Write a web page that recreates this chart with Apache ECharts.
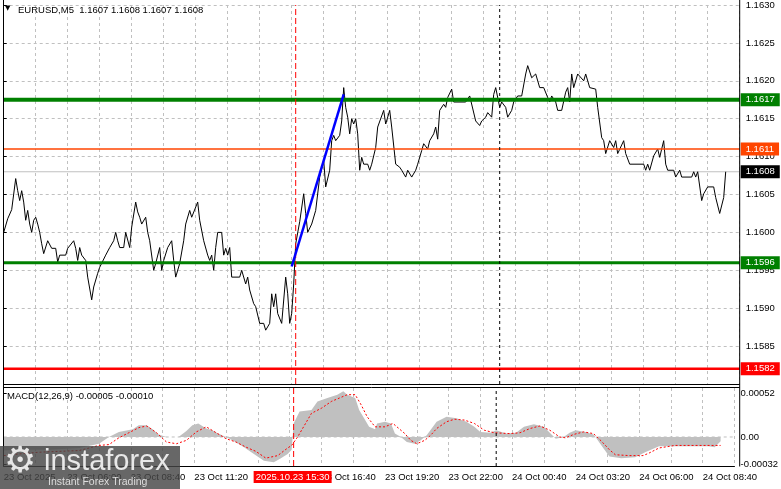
<!DOCTYPE html>
<html><head><meta charset="utf-8">
<script src="https://cdn.jsdelivr.net/npm/echarts@6/dist/echarts.min.js"></script>
<style>html,body{margin:0;padding:0;background:#fff}#c{width:781px;height:489px}</style>
</head><body><div id="c"></div>
<script>
// ---------- data ----------
const symbolTitle = 'EURUSD,M5  1.1607 1.1608 1.1607 1.1608';
const macdTitle = 'MACD(12,26,9) -0.00005 -0.00010';
// one tick label every 32 bars (M5 bars, first bar = 23 Oct 03:20)
const timeTickLabels = ['23 Oct 2025','23 Oct 06:00','23 Oct 08:40','23 Oct 11:20','23 Oct 14:00','23 Oct 16:40',
  '23 Oct 19:20','23 Oct 22:00','24 Oct 00:40','24 Oct 03:20','24 Oct 06:00','24 Oct 08:40'];
const cursorTime = '2025.10.23 15:30';
const cursorBar = 146;
const daySeparatorBar = 248;

// close price line (bar index, close)
const closeBar = [0,2,4,6,7,8,9,10,11,12,13,14,15,16,17,18,19,20,21,22,23,24,26,27,28,31,32,33,35,36,37,38,39,41,42,44,45,47,48,51,52,53,55,56,57,58,60,61,63,64,66,67,68,69,71,72,73,74,75,76,78,79,80,82,84,85,86,88,90,91,93,94,95,97,98,100,102,103,104,105,106,107,109,110,111,112,113,114,118,119,121,122,123,125,126,128,130,131,133,134,135,136,137,139,141,142,143,144,145,146,148,150,151,152,154,156,158,160,161,163,164,165,166,168,169,170,171,172,173,174,175,176,177,178,179,180,182,183,184,186,187,190,191,193,194,196,198,199,201,202,204,206,207,209,210,212,213,215,216,217,218,220,221,222,224,225,231,233,234,236,238,239,241,242,244,245,246,248,249,251,252,254,255,257,259,261,262,264,266,267,268,270,272,273,274,276,277,279,281,282,283,284,285,287,288,290,291,293,296,297,299,300,301,303,305,306,307,310,311,313,320,321,322,323,325,327,328,330,331,332,335,336,338,339,344,345,346,347,349,350,352,355,356,358,360,361];
const closePrice = [1.16000,1.16018,1.16030,1.16071,1.16055,1.16042,1.16055,1.16040,1.16016,1.16029,1.16011,1.16000,1.16016,1.16020,1.16011,1.16000,1.15985,1.15972,1.15970,1.15989,1.15989,1.15979,1.15979,1.15961,1.15970,1.15970,1.15979,1.15980,1.15989,1.15979,1.15963,1.15980,1.15970,1.15963,1.15941,1.15911,1.15928,1.15946,1.15954,1.15970,1.15972,1.15980,1.15989,1.16000,1.15989,1.15980,1.15980,1.16000,1.15980,1.16007,1.16040,1.16027,1.16020,1.16011,1.16020,1.16000,1.15989,1.15989,1.15950,1.15959,1.15980,1.15950,1.15963,1.15980,1.15989,1.15963,1.15941,1.15959,1.15989,1.16011,1.16029,1.16020,1.16020,1.16040,1.16016,1.15989,1.15970,1.15963,1.15970,1.15950,1.15980,1.16000,1.16000,1.15970,1.15979,1.15970,1.15980,1.15941,1.15941,1.15950,1.15932,1.15941,1.15924,1.15906,1.15902,1.15880,1.15880,1.15871,1.15880,1.15919,1.15902,1.15919,1.15893,1.15880,1.15941,1.15919,1.15880,1.15893,1.15932,1.15985,1.16014,1.16051,1.16025,1.16000,1.16011,1.16029,1.16073,1.16095,1.16060,1.16082,1.16121,1.16128,1.16121,1.16128,1.16147,1.16191,1.16165,1.16152,1.16130,1.16150,1.16143,1.16150,1.16130,1.16082,1.16099,1.16090,1.16090,1.16082,1.16090,1.16112,1.16139,1.16161,1.16143,1.16161,1.16139,1.16090,1.16086,1.16082,1.16073,1.16082,1.16073,1.16082,1.16090,1.16108,1.16117,1.16110,1.16121,1.16130,1.16139,1.16123,1.16161,1.16169,1.16165,1.16178,1.16189,1.16172,1.16172,1.16180,1.16178,1.16147,1.16141,1.16147,1.16152,1.16158,1.16152,1.16182,1.16191,1.16165,1.16172,1.16165,1.16152,1.16161,1.16172,1.16180,1.16180,1.16209,1.16220,1.16204,1.16209,1.16209,1.16191,1.16191,1.16178,1.16172,1.16180,1.16172,1.16161,1.16161,1.16185,1.16191,1.16172,1.16209,1.16191,1.16209,1.16209,1.16200,1.16209,1.16191,1.16189,1.16165,1.16125,1.16121,1.16104,1.16121,1.16112,1.16121,1.16104,1.16121,1.16104,1.16090,1.16090,1.16082,1.16090,1.16082,1.16101,1.16110,1.16099,1.16121,1.16090,1.16082,1.16082,1.16073,1.16082,1.16073,1.16073,1.16080,1.16073,1.16080,1.16042,1.16051,1.16060,1.16060,1.16046,1.16025,1.16046,1.16080];

// blue trend line drawn on the chart
const trendBar = [144, 170];
const trendPrice = [1.15955, 1.16182];

// horizontal levels and their price tags
const levelPrice = [1.16175, 1.1611, 1.1608, 1.1596, 1.1582];
const levelTag = ['1.1617', '1.1611', '1.1608', '1.1596', '1.1582'];

// MACD histogram (main) and signal
const macdBar = [0,8,23,38,48,53,58,65,68,72,75,78,82,88,92,95,98,102,105,108,112,116,121,126,131,136,139,143,145,146,149,155,158,163,168,171,173,177,179,182,184,187,188,192,195,197,200,203,207,210,213,218,223,228,233,237,240,245,248,253,258,262,267,272,275,278,282,285,288,293,297,298,301,305,311,318,323,330,338,348,355,358,361];
const macdMain = [-0.00016,-0.00015,-0.00015,-0.00013,-0.00008,0,0.00006,0.00009,0.00014,0.00014,0.00009,0.00003,0,0,0.00007,0.00014,0.00016,0.00010,0.00008,0.00004,0,-0.00005,-0.00012,-0.00020,-0.00028,-0.00030,-0.00026,-0.00020,-0.00015,0.00016,0.00030,0.00032,0.00042,0.00046,0.00050,0.00054,0.00050,0.00046,0.00032,0.00020,0.00012,0.00009,0.00016,0.00018,0.00016,0.00004,0,-0.00006,-0.00008,-0.00004,0.00002,0.00018,0.00024,0.00022,0.00018,0.00012,0.00006,0.00005,0.00008,0.00004,0.00005,0.00012,0.00015,0.00012,0.00005,-0.00002,0,0.00005,0.00008,0.00006,0.00003,0,-0.00010,-0.00023,-0.00025,-0.00024,-0.00018,-0.00011,-0.00011,-0.00011,-0.00011,-0.00012,-0.00005];
const signalBar = [0,8,18,38,48,53,58,63,68,72,77,82,87,92,97,102,107,112,117,122,127,132,138,143,145,148,152,155,160,165,169,173,177,180,183,187,192,196,198,202,205,208,212,215,218,223,227,232,237,242,247,255,260,265,270,275,280,283,287,292,297,301,305,308,315,322,325,330,338,348,361];
const macdSignal = [-0.00022,-0.00020,-0.00018,-0.00016,-0.00010,-0.00009,-0.00001,0.00005,0.00011,0.00013,0.00005,-0.00006,-0.00008,-0.00004,0.00006,0.00012,0.00005,-0.00002,-0.00006,-0.00012,-0.00017,-0.00025,-0.00022,-0.00013,-0.00010,0,0.00016,0.00028,0.00034,0.00042,0.00046,0.00050,0.00050,0.00038,0.00024,0.00012,0.00012,0.00016,0.00012,0.00004,-0.00004,-0.00008,-0.00004,0.00002,0.00010,0.00018,0.00021,0.00020,0.00016,0.00008,0.00005,0.00004,0.00005,0.00010,0.00013,0.00008,0,-0.00001,0.00003,0.00006,0.00004,-0.00005,-0.00015,-0.00021,-0.00022,-0.00022,-0.00019,-0.00013,-0.00010,-0.00010,-0.00010];
const macdTickValues = [-0.00032, 0, 0.00052];

// ---------- styles / axis ranges ----------
const FONT = 'Liberation Sans';
const FS = 9.5;
const X_MAX = 368;
const P_MIN = 1.158, P_MAX = 1.163;
const M_MIN = -0.000343, M_MAX = 0.000579;
const levelColor = ['#008000', '#ff4500', '#c0c0c0', '#008000', '#ff0000'];
const levelWidth = [4, 1.5, 1, 3, 2.5];
const levelTagBg = ['#008000', '#ff4500', '#000000', '#008000', '#ff0000'];
const gridLine = {color: '#c0c0c0', type: [3, 3], width: 1};

const pair = (xs, ys) => xs.map((x, k) => [x, ys[k]]);

const chart = echarts.init(document.getElementById('c'), null, {renderer: 'canvas'});

const levelSeries = levelPrice.map((p, k) => ({
  type: 'line', xAxisIndex: 0, yAxisIndex: 0, data: [[0, p], [X_MAX, p]], silent: true,
  showSymbol: false, symbol: 'none', lineStyle: {color: levelColor[k], width: levelWidth[k]}, z: 4 + (k === 2 ? -2 : 0),
  endLabel: {show: true, distance: 1, formatter: levelTag[k], backgroundColor: levelTagBg[k],
    color: '#fff', padding: [2, 5, 1, 5], fontSize: FS, fontFamily: FONT}
}));
const vSeries = (xi, yi, lo, hi, bar, color, dash) => ({
  type: 'line', xAxisIndex: xi, yAxisIndex: yi, data: [[bar, lo], [bar, hi]], silent: true,
  showSymbol: false, symbol: 'none', lineStyle: {color: color, width: 1, type: dash}, z: 5
});

const option = {
  animation: false,
  backgroundColor: '#fff',
  textStyle: {fontFamily: FONT},
  grid: [
    {left: 3.7, width: 736, top: 4, height: 380},
    {left: 3.7, width: 736, top: 388, height: 78}
  ],
  xAxis: [
    {type: 'value', gridIndex: 0, min: 0, max: X_MAX, interval: 16,
      axisLine: {show: false}, axisTick: {show: false}, axisLabel: {show: false},
      splitLine: {show: true, lineStyle: gridLine}},
    {type: 'value', gridIndex: 1, min: 0, max: X_MAX, interval: 16,
      axisLine: {show: true, onZero: false, lineStyle: {color: '#000', width: 1}}, axisTick: {show: false},
      axisLabel: {show: true, align: 'left', margin: 6, color: '#000', fontSize: FS, fontFamily: FONT,
        showMinLabel: true, showMaxLabel: true,
        formatter: v => (v % 32 === 0 && timeTickLabels[v / 32]) ? timeTickLabels[v / 32] : ''},
      splitLine: {show: true, lineStyle: gridLine}}
  ],
  yAxis: [
    {type: 'value', gridIndex: 0, position: 'right', min: P_MIN, max: P_MAX, interval: 0.0005,
      axisLine: {show: true, lineStyle: {color: '#000', width: 1}},
      axisTick: {show: true, length: 3, lineStyle: {color: '#000'}},
      axisLabel: {show: true, margin: 6, color: '#000', fontSize: FS, fontFamily: FONT, showMinLabel: false,
        formatter: v => v.toFixed(4)},
      splitLine: {show: true, lineStyle: gridLine}},
    {type: 'value', gridIndex: 1, position: 'right', min: M_MIN, max: M_MAX,
      axisLine: {show: true, lineStyle: {color: '#000', width: 1}},
      axisTick: {show: true, length: 3, customValues: macdTickValues, lineStyle: {color: '#000'}},
      axisLabel: {show: true, margin: 6, color: '#000', fontSize: FS, fontFamily: FONT, customValues: macdTickValues,
        formatter: v => Math.abs(v) < 1e-9 ? '0.00' : v.toFixed(5)},
      splitLine: {show: false}}
  ],
  series: [
    {type: 'line', name: 'close', xAxisIndex: 0, yAxisIndex: 0, data: pair(closeBar, closePrice),
      showSymbol: false, symbol: 'none', lineStyle: {color: '#000', width: 1}, z: 3},
    ...levelSeries,
    vSeries(0, 0, P_MIN, P_MAX, cursorBar, '#ff0000', [6, 3]),
    vSeries(0, 0, P_MIN, P_MAX, daySeparatorBar, '#000000', [3, 3]),
    {type: 'line', name: 'trend', xAxisIndex: 0, yAxisIndex: 0, data: pair(trendBar, trendPrice),
      showSymbol: false, symbol: 'none', lineStyle: {color: '#0000ff', width: 2.5}, z: 6},
    {type: 'line', name: 'zero', xAxisIndex: 1, yAxisIndex: 1, data: [[0, 0], [X_MAX, 0]], silent: true,
      showSymbol: false, symbol: 'none', lineStyle: gridLine, z: 1},
    {type: 'line', name: 'macd', xAxisIndex: 1, yAxisIndex: 1, data: pair(macdBar, macdMain),
      showSymbol: false, symbol: 'none', lineStyle: {width: 0}, areaStyle: {color: '#c0c0c0', opacity: 1, origin: 0}, z: 2},
    vSeries(1, 1, M_MIN, M_MAX, cursorBar, '#ff0000', [6, 3]),
    vSeries(1, 1, M_MIN, M_MAX, daySeparatorBar, '#000000', [3, 3]),
    {type: 'line', name: 'signal', xAxisIndex: 1, yAxisIndex: 1, data: pair(signalBar, macdSignal),
      showSymbol: false, symbol: 'none', lineStyle: {color: '#ff0000', width: 1, type: [2, 2]}, z: 4}
  ]
};
chart.setOption(option);

// overlays: titles, frame, cursor time tag, logo
const cx = chart.convertToPixel({xAxisIndex: 1}, cursorBar);
chart.setOption({
  graphic: [
    {type: 'line', shape: {x1: 3.5, y1: 0, x2: 3.5, y2: 466.5}, style: {stroke: '#000', lineWidth: 1}, z: 50},
    {type: 'line', shape: {x1: 739.7, y1: 0, x2: 739.7, y2: 466.5}, style: {stroke: '#000', lineWidth: 1}, z: 50},
    {type: 'line', shape: {x1: 3.5, y1: 384.5, x2: 739.7, y2: 384.5}, style: {stroke: '#000', lineWidth: 1}, z: 50},
    {type: 'line', shape: {x1: 3.5, y1: 387.5, x2: 739.7, y2: 387.5}, style: {stroke: '#000', lineWidth: 1}, z: 50},
    {type: 'text', left: 5, top: 5, style: {text: '▼', fontSize: 7, fill: '#000', fontFamily: 'DejaVu Sans'}, z: 60},
    {type: 'text', left: 18, top: 5, style: {text: symbolTitle, fontSize: FS, fill: '#000', fontFamily: FONT}, z: 60},
    {type: 'text', left: 7, top: 391, style: {text: macdTitle, fontSize: FS, fill: '#000', fontFamily: FONT}, z: 60},
    {type: 'rect', shape: {x: cx - 40, y: 471, width: 78, height: 12}, style: {fill: '#ff0000'}, z: 60},
    {type: 'text', x: cx - 1, y: 477.5, style: {text: cursorTime, fontSize: FS, fill: '#fff', fontFamily: FONT, align: 'center', verticalAlign: 'middle'}, z: 61},
    {type: 'rect', shape: {x: 0, y: 446, width: 180, height: 43}, style: {fill: 'rgba(70,70,70,0.82)'}, z: 70},
    {type: 'text', x: 4, y: 445, style: {text: '⚙', fontSize: 36, fill: '#e6e6e6', fontFamily: 'DejaVu Sans'}, z: 71},
    {type: 'text', x: 44, y: 447, style: {text: 'instaforex', fontSize: 29, fill: '#e8e8e8', fontFamily: FONT}, z: 71},
    {type: 'text', x: 48, y: 477, style: {text: 'Instant Forex Trading', fontSize: 10.5, fill: '#dddddd', fontFamily: FONT}, z: 71}
  ]
});
</script></body></html>
